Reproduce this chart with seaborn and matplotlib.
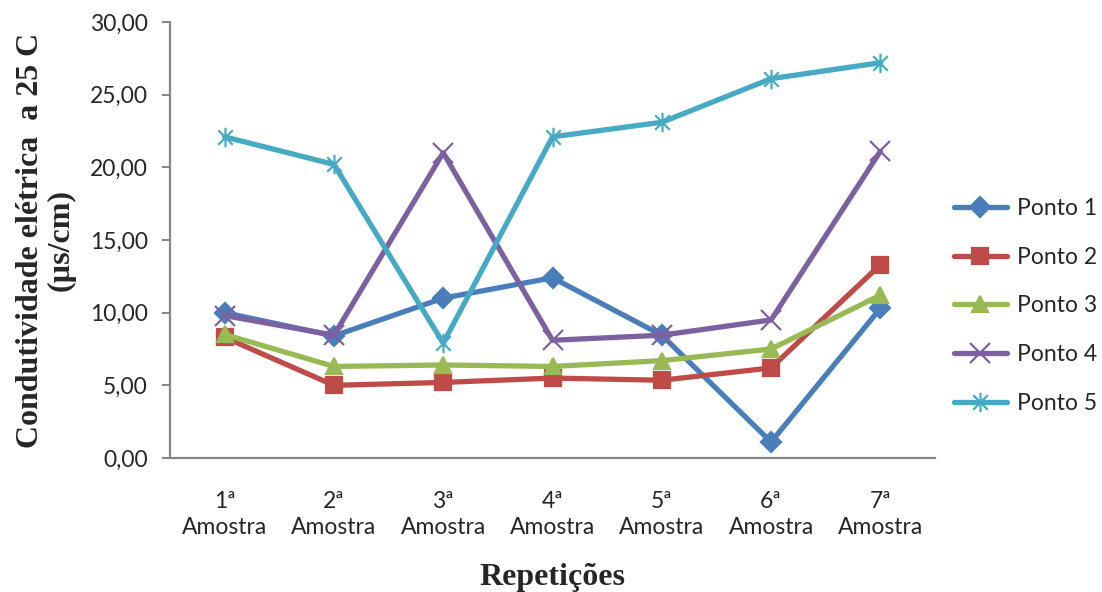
import numpy as np
import pandas as pd
import matplotlib
matplotlib.use("Agg")
import matplotlib.pyplot as plt
from matplotlib.path import Path
from matplotlib.ticker import FuncFormatter, FixedLocator
import seaborn as sns

categories = ["1ª\nAmostra", "2ª\nAmostra", "3ª\nAmostra", "4ª\nAmostra",
              "5ª\nAmostra", "6ª\nAmostra", "7ª\nAmostra"]
ponto1 = [10.0, 8.4, 11.0, 12.4, 8.45, 1.1, 10.3]
ponto2 = [8.3, 5.0, 5.2, 5.5, 5.35, 6.2, 13.3]
ponto3 = [8.5, 6.3, 6.4, 6.3, 6.7, 7.5, 11.2]
ponto4 = [9.8, 8.45, 21.0, 8.1, 8.45, 9.5, 21.1]
ponto5 = [22.1, 20.2, 7.9, 22.1, 23.1, 26.1, 27.2]
series_names = ["Ponto 1", "Ponto 2", "Ponto 3", "Ponto 4", "Ponto 5"]
series_values = [ponto1, ponto2, ponto3, ponto4, ponto5]
colors = ["#4A7EBB", "#BE4B48", "#98B954", "#7D60A0", "#46AAC5"]

asterisk = Path([(0, -1), (0, 1), (-0.75, -0.75), (0.75, 0.75), (-0.75, 0.75), (0.75, -0.75)],
                [Path.MOVETO, Path.LINETO, Path.MOVETO, Path.LINETO, Path.MOVETO, Path.LINETO])
markers = ["D", "s", "^", "x", asterisk]
msizes = [10, 12, 12, 14, 14]

rows = []
for name, vals in zip(series_names, series_values):
    for i, v in enumerate(vals):
        rows.append({"pos": i, "valor": v, "serie": name})
df = pd.DataFrame(rows)

sns.set_style("white")
plt.rcParams['font.family'] = ['Lato', 'DejaVu Sans']

fig = plt.figure(figsize=(11.02, 5.92), dpi=100)
ax = fig.add_axes([170/1102, (592-458)/592, (935-170)/1102, (458-22)/592])

for name, col, mk, ms in zip(series_names, colors, markers, msizes):
    sub = df[df["serie"] == name]
    sns.lineplot(data=sub, x="pos", y="valor", ax=ax, color=col, linewidth=3.8,
                 marker=mk, markersize=ms, markeredgecolor=col, markerfacecolor=col,
                 markeredgewidth=1.6, label=name, legend=False)

ax.set_xlim(-0.5, len(categories) - 0.5)
ax.set_ylim(0, 30)
ax.set_yticks(np.arange(0, 30.01, 5))
ax.yaxis.set_major_formatter(FuncFormatter(lambda v, p: f"{v:.2f}".replace(".", ",")))
ax.set_xticks(range(len(categories)))
ax.set_xticklabels(categories, fontsize=16.5, linespacing=1.25)
ax.xaxis.set_minor_locator(FixedLocator(np.arange(-0.5, len(categories), 1.0)))
ax.tick_params(axis="x", which="major", length=0, pad=24)
ax.tick_params(axis="x", which="minor", length=0)
ax.tick_params(axis="y", labelsize=16.5, length=6, color="#868686", width=1.4, direction="out", left=True, pad=10)

for s in ["top", "right"]:
    ax.spines[s].set_visible(False)
for s in ["left", "bottom"]:
    ax.spines[s].set_color("#868686")
    ax.spines[s].set_linewidth(1.6)

ax.set_xlabel("Repetições", fontsize=23, fontweight="bold", family="Liberation Serif", labelpad=18)
ax.set_ylabel("Condutividade elétrica  a 25 C\n(µs/cm)", fontsize=23, fontweight="bold",
              family="Liberation Serif", labelpad=10, linespacing=1.1)

handles, labels = ax.get_legend_handles_labels()
fig.legend(handles, labels, loc="center left", bbox_to_anchor=(954/1102, (592-306)/592),
           frameon=False, fontsize=16.5, handlelength=2.3, labelspacing=1.22, handletextpad=0.45,
           borderpad=0, borderaxespad=0)

fig.savefig("out.png", dpi=100)
